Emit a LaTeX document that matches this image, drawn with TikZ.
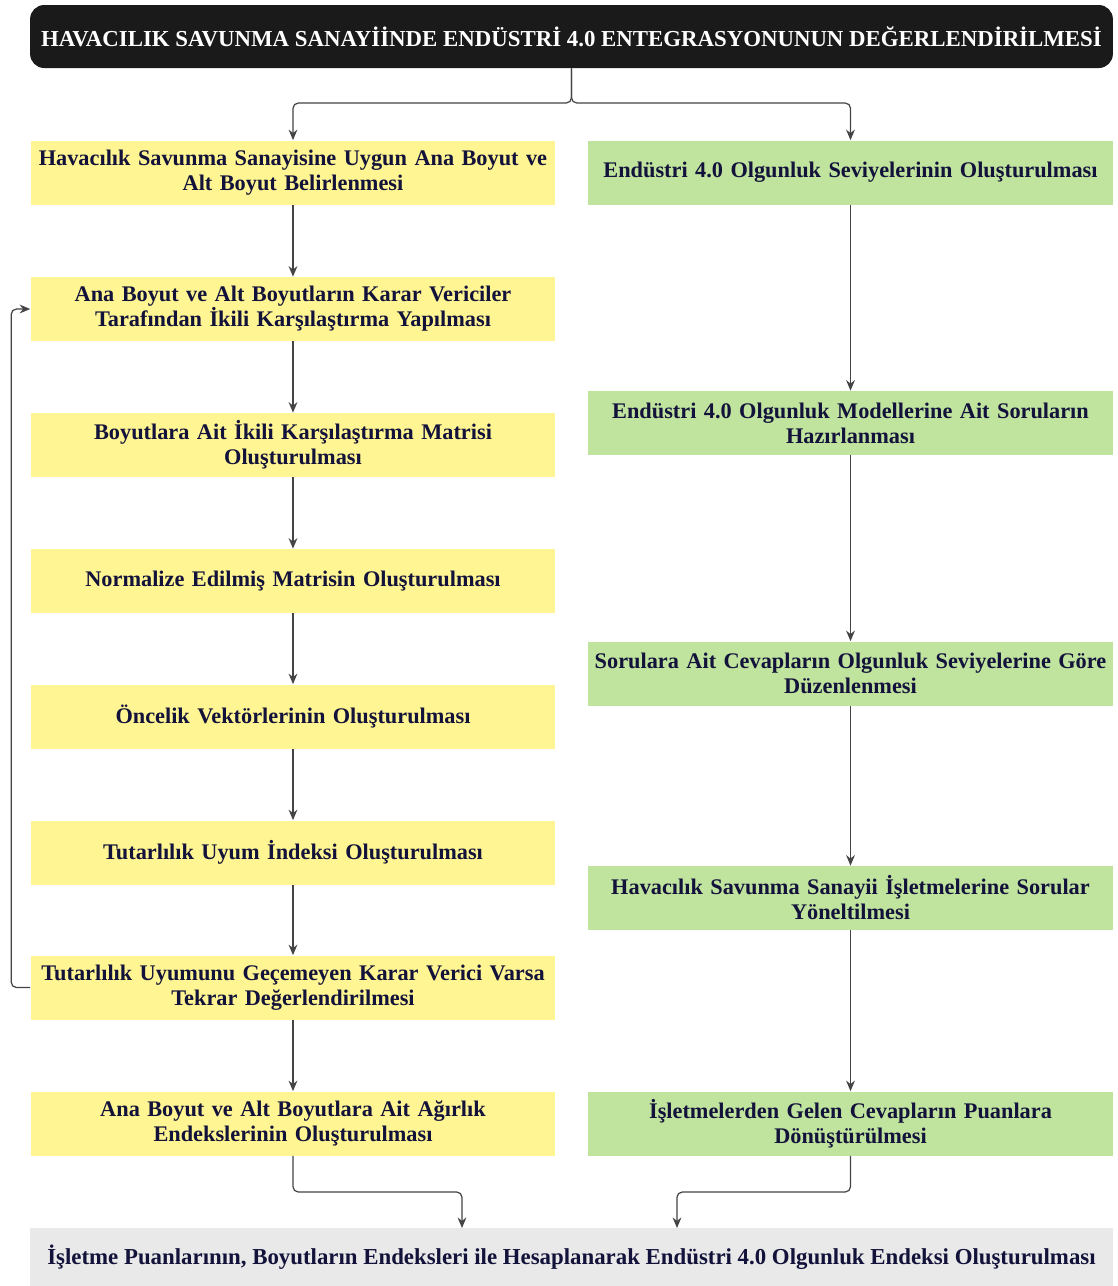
\documentclass[tikz,border=0pt]{standalone}
\usepackage{fontspec}
\setmainfont{Liberation Serif}
\usetikzlibrary{arrows.meta}
\definecolor{boxyellow}{HTML}{FFF592}
\definecolor{boxgreen}{HTML}{C0E39E}
\definecolor{boxgray}{HTML}{E9E9E9}
\definecolor{titleblack}{HTML}{1A1A1A}
\definecolor{textnavy}{HTML}{12123A}
\definecolor{linegray}{HTML}{444444}
\begin{document}
\begin{tikzpicture}[
    x=0.02cm, y=-0.02cm,
    title/.style={
        rectangle,
        rounded corners=8pt,
        minimum width=21.66cm,
        minimum height=1.26cm,
        fill=titleblack,
        text=white,
        font=\fontsize{13}{15}\selectfont\bfseries
    },
    ahpbox/.style={
        rectangle,
        inner xsep=0pt,
        minimum width=10.5cm,
        minimum height=1.28cm,
        text width=10.5cm,
        align=center,
        fill=boxyellow,
        text=textnavy,
        font=\fontsize{12.7}{14.2}\selectfont\bfseries
    },
    olgbox/.style={
        ahpbox,
        fill=boxgreen
    },
    result/.style={
        rectangle,
        minimum width=21.66cm,
        minimum height=1.16cm,
        fill=boxgray,
        text=textnavy,
        font=\fontsize{13}{15}\selectfont\bfseries
    },
    arr/.style={
        -{Stealth[length=6pt,width=5pt]},
        draw=linegray,
        line width=0.7pt,
        rounded corners=3pt
    }
]

\useasboundingbox (0,0) rectangle (1117,1286);

% Title
\node[title] (title) at (571.5,36.5) {HAVACILIK SAVUNMA SANAYİİNDE ENDÜSTRİ 4.0 ENTEGRASYONUNUN DEĞERLENDİRİLMESİ};

% Left column
\node[ahpbox] (l1) at (293,172.5) {Havacılık Savunma Sanayisine Uygun Ana Boyut ve\\Alt Boyut Belirlenmesi};
\node[ahpbox] (l2) at (293,309) {Ana Boyut ve Alt Boyutların Karar Vericiler\\Tarafından İkili Karşılaştırma Yapılması};
\node[ahpbox] (l3) at (293,445) {Boyutlara Ait İkili Karşılaştırma Matrisi\\Oluşturulması};
\node[ahpbox] (l4) at (293,581) {Normalize Edilmiş Matrisin Oluşturulması};
\node[ahpbox] (l5) at (293,716.5) {Öncelik Vektörlerinin Oluşturulması};
\node[ahpbox] (l6) at (293,852.5) {Tutarlılık Uyum İndeksi Oluşturulması};
\node[ahpbox] (l7) at (293,987.5) {Tutarlılık Uyumunu Geçemeyen Karar Verici Varsa\\Tekrar Değerlendirilmesi};
\node[ahpbox] (l8) at (293,1123.5) {Ana Boyut ve Alt Boyutlara Ait Ağırlık\\Endekslerinin Oluşturulması};

% Right column
\node[olgbox] (r1) at (850.5,172.5) {Endüstri 4.0 Olgunluk Seviyelerinin Oluşturulması};
\node[olgbox] (r2) at (850.5,423) {Endüstri 4.0 Olgunluk Modellerine Ait Soruların\\Hazırlanması};
\node[olgbox] (r3) at (850.5,673.5) {Sorulara Ait Cevapların Olgunluk Seviyelerine Göre\\Düzenlenmesi};
\node[olgbox] (r4) at (850.5,898) {Havacılık Savunma Sanayii İşletmelerine Sorular\\Yöneltilmesi};
\node[olgbox] (r5) at (850.5,1123.5) {İşletmelerden Gelen Cevapların Puanlara\\Dönüştürülmesi};

% Result
\node[result] (res) at (571.5,1257) {İşletme Puanlarının, Boyutların Endeksleri ile Hesaplanarak Endüstri 4.0 Olgunluk Endeksi Oluşturulması};
\coordinate (resL) at (462,1228);
\coordinate (resR) at (677,1228);

% Arrows
\draw[arr] (title.south) -- (title.south |- 0,103) -| (l1.north);
\draw[arr] (title.south) -- (title.south |- 0,103) -| (r1.north);
\foreach \a/\b in {l1/l2,l2/l3,l3/l4,l4/l5,l5/l6,l6/l7,l7/l8,r1/r2,r2/r3,r3/r4,r4/r5}
    \draw[arr] (\a) -- (\b);
\draw[arr] (l7.west) -- ++(-19,0) |- (l2.west);
\draw[arr] (l8.south) -- (l8.south |- 0,1192) -| (resL);
\draw[arr] (r5.south) -- (r5.south |- 0,1192) -| (resR);

\end{tikzpicture}
\end{document}
